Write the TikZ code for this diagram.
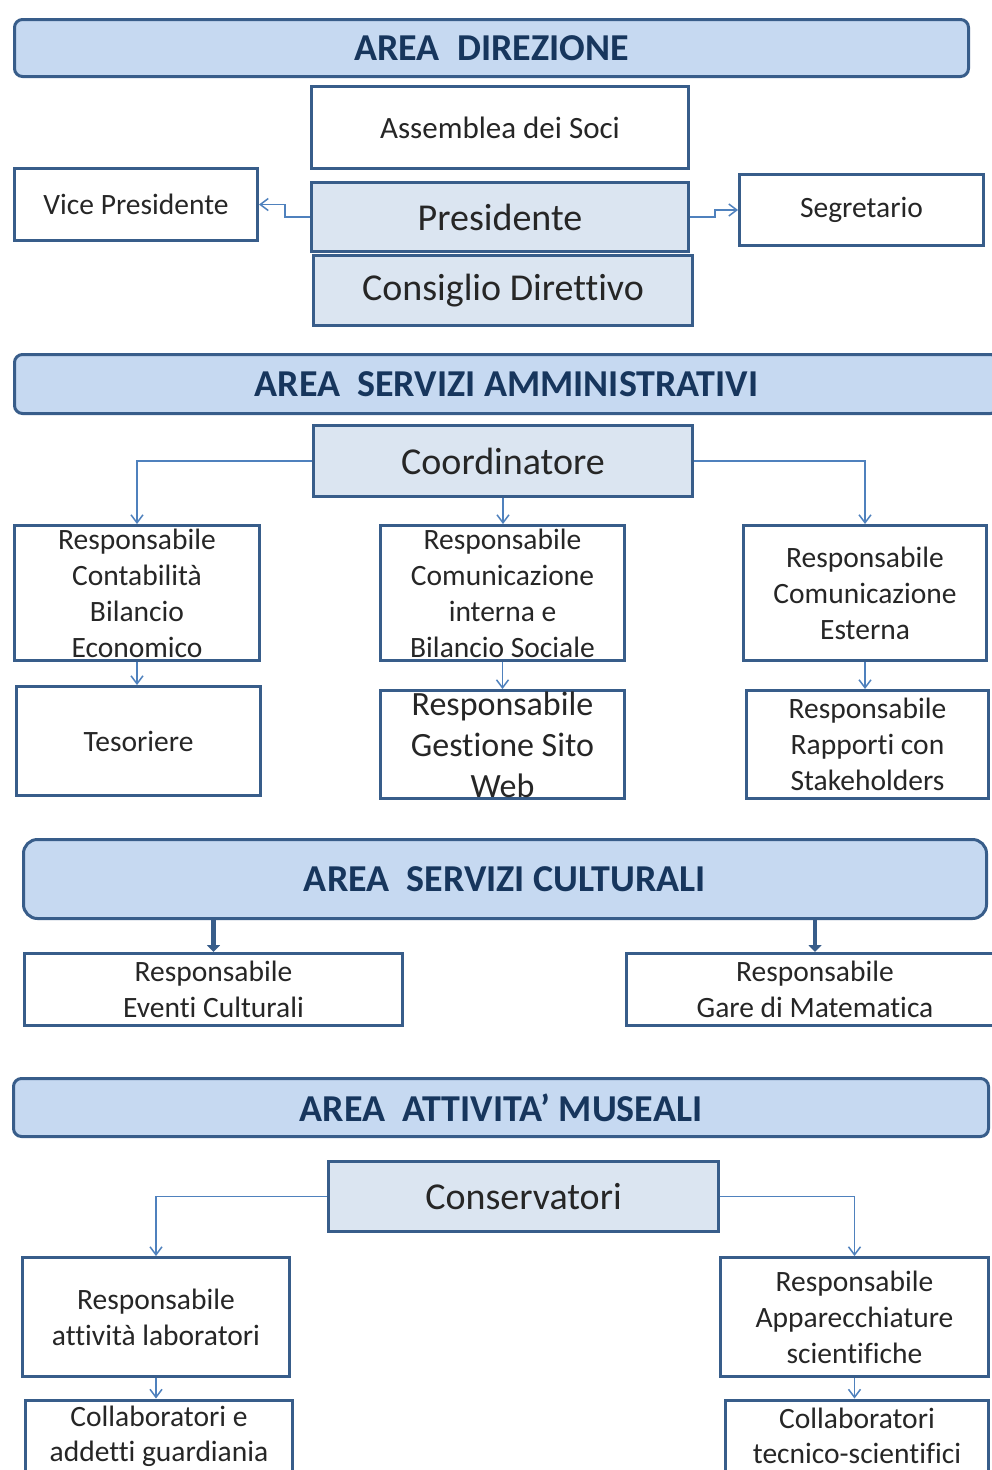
\documentclass[tikz,border=0pt]{standalone}
\usepackage{fontspec}
\setmainfont{Carlito}[Ligatures=NoCommon]
\usetikzlibrary{arrows.meta}
\definecolor{bfill}{HTML}{C6D9F1}
\definecolor{bdraw}{HTML}{385D8A}
\definecolor{lfill}{HTML}{DBE5F1}
\definecolor{cline}{HTML}{4F81BD}
\definecolor{btext}{HTML}{17365D}
\definecolor{ttext}{HTML}{262626}
\begin{document}
\begin{tikzpicture}[x=1pt,y=-1pt,
  banner/.style={draw=bdraw, fill=bfill, line width=3pt, rounded corners=8pt, text=btext,
    font=\fontsize{38}{44}\selectfont\bfseries, inner sep=0pt},
  box/.style={draw=bdraw, fill=white, line width=3pt, text=ttext, align=center, inner sep=0pt,
    font=\fontsize{29.5}{36}\selectfont},
  lbox/.style={box, fill=lfill, font=\fontsize{38}{44}\selectfont},
  connarrow/.style={draw=cline, line width=1.5pt, -{Straight Barb[length=8pt,width=12pt,line width=1.5pt]}},
  bigarrow/.style={draw=bdraw, line width=4.5pt, -{Triangle[length=7pt,width=13pt]}}
]
\useasboundingbox (0,0) rectangle (992,1470);
\fill[white] (0,0) rectangle (992,1470);
\clip (0,0) rectangle (992,1470);

% AREA DIREZIONE
\node[banner, minimum width=954, minimum height=57] (bdir) at (491.5,48) {AREA\ \ DIREZIONE};
\node[box, minimum width=377, minimum height=82, font=\fontsize{31}{36}\selectfont] (assemblea) at (500,127.5) {Assemblea dei Soci};
\node[lbox, minimum width=377, minimum height=69] (pres) at (500,217) {Presidente};
\node[lbox, minimum width=379, minimum height=70] (consiglio) at (503,290.5) {Consiglio Direttivo};
\node[box, minimum width=243, minimum height=72] (vice) at (136,204.5) {Vice Presidente};
\node[box, minimum width=244, minimum height=71] (segr) at (861.5,210) {Segretario};
\draw[connarrow] (pres.west) -- ++(-25,0) |- (vice.east);
\draw[connarrow] (pres.east) -- ++(25,0) |- (segr.west);

% AREA SERVIZI AMMINISTRATIVI
\node[banner, minimum width=984, minimum height=59] (bamm) at (506.5,384) {AREA\ \ SERVIZI AMMINISTRATIVI};
\node[lbox, minimum width=379, minimum height=71] (coord) at (503,461) {Coordinatore};
\node[box, minimum width=245, minimum height=135] (contab) at (137,593) {Responsabile\\Contabilità\\Bilancio\\Economico};
\node[box, minimum width=244, minimum height=135] (comint) at (502.5,593) {Responsabile\\Comunicazione\\interna e\\Bilancio Sociale};
\node[box, minimum width=243, minimum height=135] (comest) at (865,593) {Responsabile\\Comunicazione\\Esterna};
\node[box, minimum width=244, minimum height=109] (tesor) at (138.5,741) {Tesoriere};
\node[box, minimum width=244, minimum height=108, font=\fontsize{34}{41}\selectfont] (sito) at (502.5,744.5) {Responsabile\\Gestione Sito\\Web};
\node[box, minimum width=242, minimum height=108] (stake) at (867.5,744.5) {Responsabile\\Rapporti con\\Stakeholders};
\draw[connarrow] (coord.west) -| (contab.north);
\draw[connarrow] (coord.east) -| (comest.north);
\draw[connarrow] (coord.south) -- (coord.south |- comint.north);
\draw[connarrow] (contab.south) -- (contab.south |- tesor.north);
\draw[connarrow] (comint.south) -- (comint.south |- sito.north);
\draw[connarrow] (comest.south) -- (comest.south |- stake.north);

% AREA SERVIZI CULTURALI
\node[banner, rounded corners=14pt, minimum width=963, minimum height=79] (bcult) at (505,879) {AREA\ \ SERVIZI CULTURALI};
\node[box, minimum width=378, minimum height=72] (eventi) at (213.5,989.5) {Responsabile\\Eventi Culturali};
\node[box, minimum width=377, minimum height=72] (gare) at (815,989.5) {Responsabile\\Gare di Matematica};
\draw[bigarrow] (eventi.north |- bcult.south) -- (eventi.north);
\draw[bigarrow] (gare.north |- bcult.south) -- (gare.north);

% AREA ATTIVITA' MUSEALI
\node[banner, minimum width=975, minimum height=58] (bmus) at (501,1107.5) {AREA\ \ ATTIVITA’ MUSEALI};
\node[lbox, minimum width=390, minimum height=70] (conserv) at (523.5,1196.5) {Conservatori};
\node[box, minimum width=267, minimum height=119] (lab) at (156,1317) {Responsabile\\attività laboratori};
\node[box, minimum width=268, minimum height=119] (appar) at (854.5,1317) {Responsabile\\Apparecchiature\\scientifiche};
\node[box, minimum width=267, minimum height=72, font=\fontsize{29.5}{35}\selectfont] (guard) at (159,1436) {Collaboratori e\\addetti guardiania};
\node[box, minimum width=263, minimum height=72, font=\fontsize{29.5}{35}\selectfont] (tecn) at (857,1436) {Collaboratori\\tecnico-scientifici};
\draw[connarrow] (conserv.west) -| (lab.north);
\draw[connarrow] (conserv.east) -| (appar.north);
\draw[connarrow] (lab.south) -- (lab.south |- guard.north);
\draw[connarrow] (appar.south) -- (appar.south |- tecn.north);
\end{tikzpicture}
\end{document}
